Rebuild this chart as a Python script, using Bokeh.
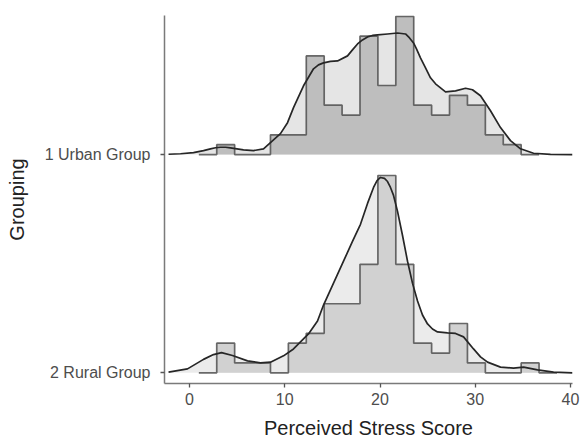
import numpy as np
from bokeh.plotting import figure
from bokeh.models import Range1d, FixedTicker
from bokeh.embed import file_html
from bokeh.resources import INLINE

# ---------------- data ----------------
score_ticks = [0, 10, 20, 30, 40]
group_labels = ["1 Urban Group", "2 Rural Group"]
group_pos = [2, 1]

bin_start = 0.98
bin_width = 1.88

urban_counts = [0, 1, 0, 0, 2, 2, 10, 5, 4, 12, 7, 14, 5, 4, 6, 5, 2, 1, 0]
rural_counts = [0, 3, 1, 1, 0, 3, 4, 7, 7, 11, 20, 11, 3, 2, 5, 1, 0, 0, 1, 0]

urban_dens_x = [-2.20, -0.94, 0.42, 1.47, 2.20, 2.73, 3.25, 3.78, 4.30, 5.67,
                6.72, 7.77, 8.50, 9.55, 10.29, 10.92, 11.97, 13.02, 13.54, 14.07,
                14.80, 15.54, 16.59, 17.11, 17.64, 18.16, 18.69, 19.21, 19.74, 20.79,
                21.31, 21.84, 22.68, 23.10, 23.52, 23.83, 24.25, 24.78, 25.30, 25.83,
                26.88, 27.93, 28.98, 29.71, 30.55, 31.60, 32.65, 33.70, 34.75, 36.12,
                37.90, 40.21]
urban_dens_y = [0.03, 0.08, 0.20, 0.40, 0.58, 0.69, 0.74, 0.74, 0.68, 0.47,
                0.40, 0.58, 1.21, 2.12, 3.23, 4.75, 6.97, 8.69, 9.09, 9.29,
                9.44, 9.49, 10.00, 10.61, 11.21, 11.62, 11.92, 12.07, 12.12, 12.22,
                12.27, 12.32, 12.22, 11.82, 11.31, 10.71, 9.80, 8.79, 7.78, 7.17,
                6.36, 6.46, 6.72, 6.57, 5.96, 4.44, 2.73, 1.41, 0.58, 0.13,
                0.02, 0.0]

rural_dens_x = [-2.20, -0.21, 1.47, 2.52, 3.36, 4.51, 6.09, 7.45, 8.50, 9.87,
                10.92, 11.65, 12.49, 13.44, 14.07, 15.12, 16.17, 17.11, 17.95, 18.69,
                19.32, 19.69, 20.05, 20.47, 20.79, 21.10, 21.42, 21.84, 22.36, 22.89,
                23.41, 23.94, 24.46, 24.99, 25.51, 26.04, 27.09, 27.93, 28.77, 29.82,
                30.55, 31.29, 32.65, 34.02, 35.07, 36.54, 38.22, 40.21]
rural_dens_y = [0.07, 0.40, 1.36, 1.85, 2.05, 1.75, 1.21, 1.01, 1.08, 1.72,
                2.42, 3.13, 3.94, 5.25, 6.87, 9.09, 11.31, 13.33, 15.05, 17.17,
                18.79, 19.49, 19.80, 19.70, 19.39, 18.79, 17.98, 16.36, 13.94, 11.31,
                9.09, 7.27, 5.86, 4.95, 4.44, 4.14, 4.04, 3.99, 3.64, 2.42,
                1.62, 1.08, 0.58, 0.47, 0.58, 0.30, 0.07, 0.0]

# ---------------- styling ----------------
ridge_scale = 0.0452   # ridge height per count, in group units
FONT = "Liberation Sans"

styles = {
    "1 Urban Group": dict(dens_fill="#e5e5e5", hist_fill="#bebebe"),
    "2 Rural Group": dict(dens_fill="#ebebeb", hist_fill="#d1d1d1"),
}

p = figure(width=580, height=443,
           x_range=Range1d(-2.625, 40.21), y_range=Range1d(0.951, 2.637),
           output_backend="svg", toolbar_location=None,
           min_border_left=164, min_border_right=8,
           min_border_top=15, min_border_bottom=60)
p.outline_line_color = None
p.grid.visible = False
p.background_fill_color = "white"
p.border_fill_color = "white"


def step_path(counts, base):
    edges = bin_start + bin_width * np.arange(len(counts) + 1)
    xs = np.repeat(edges, 2)[1:-1]
    ys = base + np.repeat(np.asarray(counts, dtype=float), 2) * ridge_scale
    return xs, ys


series = [
    ("1 Urban Group", 2, urban_counts, urban_dens_x, urban_dens_y),
    ("2 Rural Group", 1, rural_counts, rural_dens_x, rural_dens_y),
]

for name, base, counts, dx, dy in series:
    st = styles[name]
    dx = np.asarray(dx)
    dyv = base + np.asarray(dy) * ridge_scale
    # density fill
    p.varea(x=dx, y1=np.full(len(dx), base), y2=dyv, fill_color=st["dens_fill"])
    # histogram fill + outline
    hx, hy = step_path(counts, base)
    p.varea(x=hx, y1=np.full(len(hx), base), y2=hy, fill_color=st["hist_fill"])
    p.line(hx, hy, line_color="#505050", line_width=1.7, line_alpha=0.85)
    # density line
    p.line(dx, dyv, line_color="#262626", line_width=1.7, line_join="round")

# axes
p.xaxis.ticker = FixedTicker(ticks=score_ticks)
p.yaxis.ticker = FixedTicker(ticks=group_pos)
p.yaxis.major_label_overrides = {pos: lab for pos, lab in zip(group_pos, group_labels)}

for ax in (p.xaxis[0], p.yaxis[0]):
    ax.axis_line_color = "#7a7a7a"
    ax.axis_line_width = 1.5
    ax.major_tick_line_color = "#555555"
    ax.major_tick_line_width = 1.3
    ax.major_tick_out = 4
    ax.major_tick_in = 0
    ax.minor_tick_line_color = None
    ax.major_label_text_font = FONT
    ax.major_label_text_color = "#4d4d4d"
    ax.axis_label_text_font = FONT
    ax.axis_label_text_font_style = "normal"
    ax.axis_label_text_color = "#222222"

p.xaxis.major_label_text_font_size = "16px"
p.xaxis.major_label_standoff = 5
p.xaxis.axis_label = "Perceived Stress Score"
p.xaxis.axis_label_text_font_size = "20px"
p.xaxis.axis_label_standoff = 9

p.yaxis.major_label_text_font_size = "16px"
p.yaxis.major_label_standoff = 10
p.yaxis.axis_label = "Grouping"
p.yaxis.axis_label_text_font_size = "20px"
p.yaxis.axis_label_standoff = 14

open("out.html", "w").write(file_html(p, INLINE))
